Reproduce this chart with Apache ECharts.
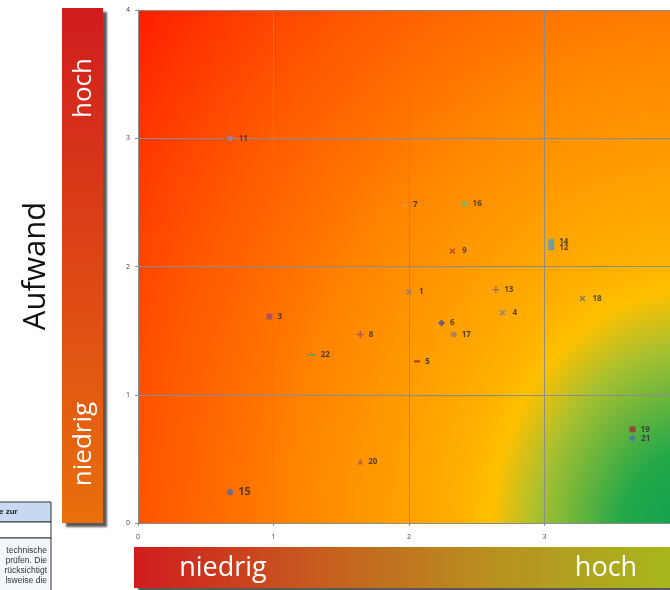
<!DOCTYPE html>
<html><head><meta charset="utf-8">
<script src="https://cdn.jsdelivr.net/npm/echarts@6/dist/echarts.min.js"></script>
<style>html,body{margin:0;padding:0;background:#fff}#c{width:670px;height:590px}</style>
</head><body><div id="c"></div>
<script>
// ---- data ----
const pointIds      = ['1','3','4','5','6','7','8','9','11','12','13','14','15','16','17','18','19','20','21','22'];
const nutzenValues  = [2.00,0.97,2.69,2.06,2.24,1.97,1.64,2.32,0.68,3.05,2.64,3.05,0.68,2.41,2.33,3.28,3.65,1.64,3.65,1.29];
const aufwandValues = [1.80,1.61,1.64,1.26,1.56,2.48,1.47,2.12,3.00,2.15,1.82,2.19,0.24,2.49,1.47,1.75,0.73,0.48,0.66,1.31];
const axisMin = 0, axisMax = 4, axisStep = 1;
const yTitle = 'Aufwand';
const lowText = 'niedrig', highText = 'hoch';
const tableLines = ['technische','prüfen. Die','rücksichtigt','lsweise die'];
const tableHeader = 'e zur';

// ---- styles ----
const P_PLUS = 'path://M4,0H6V4H10V6H6V10H4V6H0V4H4Z';
const P_DASH = 'path://M0,0H10V3H0Z';
const markerStyle = {
  '1': ['x','#6f7fa6'], '3': ['rect','#9c4b72'], '4': ['x','#6f7fa6'], '5': ['dash','#8b2020'],
  '6': ['diamond','#4d4da3'], '7': ['dash','#e8904a'], '8': ['plus','#9c4b72'], '9': ['x','#b03a3a'],
  '11': ['diamond','#8088c8'], '12': ['rect','#4a98d0'], '13': ['plus','#7a6a6a'], '14': ['rect','#4aa2c4'],
  '15': ['circle','#4a6ab8'], '16': ['circle','#82b062'], '17': ['circle','#a07a70'], '18': ['x','#6a6a6a'],
  '19': ['rect','#a03030'], '20': ['triangle','#b06040'], '21': ['diamond','#4a70b0'], '22': ['dash','#4aa080']
};
const G = {left:138, top:10, width:542, height:513};
const FONT = '"Open Sans", "Noto Sans", sans-serif';

const chart = echarts.init(document.getElementById('c'));

const data = pointIds.map((id,i) => {
  const [shape,color] = markerStyle[id];
  let symbol = shape, size = 6, rot = 0;
  if (shape === 'x') { symbol = P_PLUS; size = 7; rot = 45; }
  if (shape === 'plus') { symbol = P_PLUS; size = 7; }
  if (shape === 'dash') { symbol = P_DASH; size = [6,2]; }
  if (shape === 'diamond') size = 7;
  return {
    name: id, value: [nutzenValues[i], aufwandValues[i]],
    symbol, symbolSize: size, symbolRotate: rot,
    itemStyle: {color},
    label: id === '15' ? {fontSize: 11} : {}
  };
});

// background: elliptical radial gradient anchored near bottom-right corner
const cx = 690, cy = 540, sy = 1.25;
const bg = new echarts.graphic.RadialGradient(0, 0, 700, [
  {offset:0, color:'#10a050'},
  {offset:0.1, color:'#22a84a'},
  {offset:0.22, color:'#a8c030'},
  {offset:0.285, color:'#ffc000'},
  {offset:0.34, color:'#ffae00'},
  {offset:0.57, color:'#ff8400'},
  {offset:0.66, color:'#ff6e00'},
  {offset:0.77, color:'#ff5800'},
  {offset:0.9, color:'#ff3800'},
  {offset:1, color:'#ff1c00'}
], true);

const shadow = {shadowColor:'rgba(0,0,0,0.65)', shadowBlur:2, shadowOffsetX:4, shadowOffsetY:4};

chart.setOption({
  animation: false,
  grid: {left:G.left, top:G.top, width:G.width, height:G.height, containLabel:false, outerBoundsMode:'none'},
  xAxis: {
    type:'value', min:axisMin, max:axisMax, interval:axisStep,
    axisLine:{show:true, lineStyle:{color:'#8c8c8c'}},
    axisTick:{show:true, length:3, lineStyle:{color:'#8c8c8c'}},
    axisLabel:{fontSize:7, color:'#444', margin:10, fontFamily:FONT},
    splitLine:{show:true, lineStyle:{color:'#8c8c8c', width:1}}
  },
  yAxis: {
    type:'value', min:axisMin, max:axisMax, interval:axisStep,
    axisLine:{show:true, lineStyle:{color:'#8c8c8c'}},
    axisTick:{show:true, length:3, lineStyle:{color:'#8c8c8c'}},
    axisLabel:{fontSize:7, color:'#444', margin:8, fontFamily:FONT},
    splitLine:{show:true, lineStyle:{color:'#8c8c8c', width:1}}
  },
  graphic: [
    {type:'rect', z:-10, x:cx, y:cy, scaleY:sy,
     shape:{x:G.left-cx, y:(G.top-cy)/sy, width:G.width, height:G.height/sy},
     style:{fill:bg}},
    // left bar
    {type:'rect', shape:{x:62, y:8, width:41, height:515},
     style:Object.assign({fill:new echarts.graphic.LinearGradient(0,0,0,1,[{offset:0,color:'#d01c1e'},{offset:1,color:'#e9700c'}])}, shadow)},
    {type:'text', x:84, y:88, rotation:Math.PI/2,
     style:{text:highText, fill:'#fff', fontSize:26, fontFamily:FONT, align:'center', verticalAlign:'middle'}},
    {type:'text', x:84, y:444, rotation:Math.PI/2,
     style:{text:lowText, fill:'#fff', fontSize:26, fontFamily:FONT, align:'center', verticalAlign:'middle'}},
    {type:'text', x:36, y:266, rotation:Math.PI/2,
     style:{text:yTitle, fill:'#111', fontSize:31, fontFamily:FONT, align:'center', verticalAlign:'middle'}},
    // bottom bar
    {type:'rect', shape:{x:134, y:547, width:560, height:41},
     style:Object.assign({fill:new echarts.graphic.LinearGradient(0,0,1,0,[{offset:0,color:'#d01c1e'},{offset:0.35,color:'#c6601e'},{offset:0.65,color:'#b89220'},{offset:1,color:'#a4bc1c'}])}, shadow)},
    {type:'text', x:223, y:568,
     style:{text:lowText, fill:'#fff', fontSize:27, fontFamily:FONT, align:'center', verticalAlign:'middle'}},
    {type:'text', x:606, y:568,
     style:{text:highText, fill:'#fff', fontSize:27, fontFamily:FONT, align:'center', verticalAlign:'middle'}},
    // document fragment bottom-left
    {type:'rect', shape:{x:-2, y:502, width:53, height:20}, style:{fill:'#c6d9f1', stroke:'#333', lineWidth:1}},
    {type:'rect', shape:{x:-2, y:522, width:53, height:16}, style:{fill:'#fff', stroke:'#333', lineWidth:1}},
    {type:'rect', shape:{x:-2, y:538, width:53, height:60}, style:{fill:'#f3f7fc', stroke:'#333', lineWidth:1}},
    {type:'text', x:-1, y:512, style:{text:tableHeader, fill:'#222', fontSize:8, fontWeight:'bold', fontFamily:'"Liberation Sans", Arial', verticalAlign:'middle'}},
    ...tableLines.map((t,i) => ({type:'text', x:47, y:551 + i*10,
      style:{text:t, fill:'#333', fontSize:8.5, fontFamily:'"Liberation Sans", Arial', align:'right', verticalAlign:'middle'}}))
  ],
  series: [{
    type:'scatter', data,
    label:{show:true, position:'right', distance:5, formatter:'{b}', fontSize:8, fontWeight:'bold', color:'#2a2a2a', fontFamily:FONT},
    emphasis:{disabled:true}
  }]
});
</script></body></html>
